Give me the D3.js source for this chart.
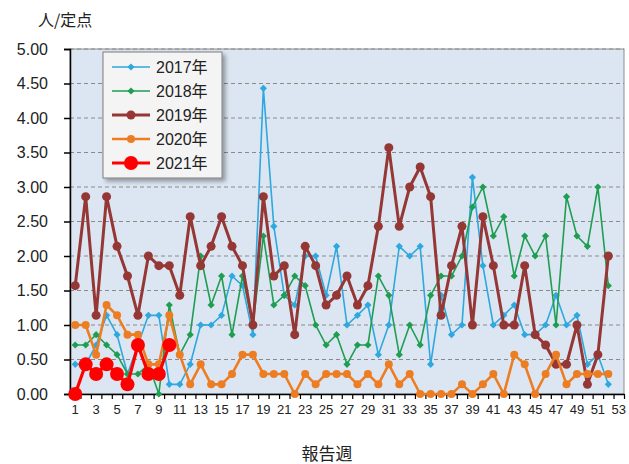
<!DOCTYPE html>
<html><head><meta charset="utf-8">
<script src="https://cdn.jsdelivr.net/npm/d3@7"></script>
<style>body{margin:0;background:#fff}svg{display:block}</style>
</head><body><svg id="c" width="629" height="464"></svg>
<script>
const weeks = d3.range(1, 54);
const tickLabels = d3.range(1, 54, 2);
const yTicks = [0,0.5,1,1.5,2,2.5,3,3.5,4,4.5,5];
const s2017 = [0.43,0.43,0.71,1.14,0.86,0.29,0.71,1.14,1.14,0.14,0.14,0.43,1.00,1.00,1.14,1.71,1.57,0.86,4.43,2.43,1.43,1.29,2.00,2.00,1.43,2.14,1.00,1.14,1.29,0.57,1.00,2.14,2.00,2.14,0.43,1.43,0.86,1.00,3.14,1.86,1.00,1.14,1.29,0.86,0.86,1.00,1.43,1.00,1.14,0.43,0.57,0.14];
const s2018 = [0.71,0.71,0.86,0.71,0.57,0.29,0.29,0.43,0.00,1.29,0.57,0.86,2.00,1.29,1.71,0.86,1.71,1.00,2.29,1.29,1.43,1.71,1.57,1.00,0.71,0.86,0.43,0.71,0.71,1.71,1.43,0.57,1.00,0.71,1.43,1.71,1.71,2.00,2.71,3.00,2.29,2.57,1.71,2.29,2.00,2.29,1.00,2.86,2.29,2.14,3.00,1.57];
const s2019 = [1.57,2.86,1.14,2.86,2.14,1.71,1.14,2.00,1.86,1.86,1.43,2.57,1.86,2.14,2.57,2.14,1.86,1.00,2.86,1.71,1.86,0.86,2.14,1.86,1.29,1.43,1.71,1.29,1.57,2.43,3.57,2.43,3.00,3.29,2.86,1.14,1.86,2.43,1.00,2.57,1.86,1.00,1.00,1.86,0.86,0.71,0.43,0.43,1.00,0.14,0.57,2.00];
const s2020 = [1.00,1.00,0.57,1.29,1.14,0.86,0.86,0.43,0.43,1.14,0.57,0.14,0.43,0.14,0.14,0.29,0.57,0.57,0.29,0.29,0.29,0.00,0.29,0.14,0.29,0.29,0.29,0.14,0.29,0.14,0.43,0.14,0.29,0.00,0.00,0.00,0.00,0.14,0.00,0.14,0.29,0.00,0.57,0.43,0.00,0.29,0.57,0.14,0.29,0.29,0.29,0.29];
const s2021 = [0.00,0.43,0.29,0.43,0.29,0.14,0.71,0.29,0.29,0.71];
const seriesNames = ["2017年","2018年","2019年","2020年","2021年"];

const series = [
  {name: seriesNames[0], values: s2017, color: "#2ea8df", width: 1.6, marker: "diamond", size: 3.6},
  {name: seriesNames[1], values: s2018, color: "#1f9e52", width: 1.6, marker: "diamond", size: 3.6},
  {name: seriesNames[2], values: s2019, color: "#953735", width: 3, marker: "circle", size: 4.5},
  {name: seriesNames[3], values: s2020, color: "#ed7d22", width: 2.6, marker: "circle", size: 4},
  {name: seriesNames[4], values: s2021, color: "#ff0000", width: 3.2, marker: "circle", size: 7}
];

const svg = d3.select("#c");
const L = 70, R = 624, T = 49, B = 394;
const x = d3.scaleBand().domain(weeks).range([L, R]);
const y = d3.scaleLinear().domain([0, 5]).range([B, T]);
const cx = w => x(w) + x.bandwidth() / 2;
const font = "'Liberation Sans','Noto Sans CJK JP',sans-serif";

const defs = svg.append("defs");
const f = defs.append("filter").attr("id","sh").attr("x","-10%").attr("y","-10%").attr("width","130%").attr("height","130%");
f.append("feDropShadow").attr("dx",3).attr("dy",3).attr("stdDeviation",2).attr("flood-color","#000").attr("flood-opacity",0.35);

// plot area
svg.append("rect").attr("x", L).attr("y", T).attr("width", R - L).attr("height", B - T)
  .attr("fill", "#dce6f2").attr("stroke", "#8c8c8c").attr("stroke-width", 1);

// grid
svg.append("g").selectAll("line").data(yTicks.filter(v => v > 0)).join("line")
  .attr("x1", L).attr("x2", R).attr("y1", d => y(d)).attr("y2", d => y(d))
  .attr("stroke", "#8a8a8a").attr("stroke-width", 1).attr("stroke-dasharray", "4,3");

// y axis
const ya = svg.append("g").attr("transform", `translate(${L},0)`)
  .call(d3.axisLeft(y).tickValues(yTicks).tickFormat(d3.format(".2f")).tickSize(6).tickPadding(16));
ya.select(".domain").attr("stroke", "#000").attr("stroke-width", 1.5);
ya.selectAll(".tick line").attr("stroke", "#000").attr("stroke-width", 1.5);
ya.selectAll("text").attr("font-family", font).attr("font-size", 16).attr("fill", "#222");

// x axis
const xTickScale = d3.scaleLinear().domain([0, 53]).range([L, R]);
const xa = svg.append("g").attr("transform", `translate(0,${B})`)
  .call(d3.axisBottom(xTickScale).tickValues(d3.range(0, 54)).tickFormat("").tickSize(5).tickSizeOuter(0));
xa.select(".domain").attr("stroke", "#000").attr("stroke-width", 1.5);
xa.selectAll(".tick line").attr("stroke", "#000").attr("stroke-width", 1.2);
svg.append("g").selectAll("text").data(tickLabels).join("text")
  .attr("x", d => cx(d)).attr("y", B + 20).attr("text-anchor", "middle")
  .attr("font-family", font).attr("font-size", 13).attr("fill", "#222").text(d => d);

// titles
svg.append("text").attr("x", 38).attr("y", 26).attr("font-family", "'Noto Sans CJK JP',sans-serif")
  .attr("font-size", 16).attr("fill", "#222").text("人/定点");
svg.append("text").attr("x", 327).attr("y", 460).attr("text-anchor", "middle")
  .attr("font-family", "'Noto Sans CJK JP',sans-serif").attr("font-size", 17).attr("fill", "#222").text("報告週");

function drawMarker(g, s, px, py) {
  if (s.marker === "diamond") {
    const r = s.size;
    g.append("path").attr("d", `M${px},${py - r}L${px + r},${py}L${px},${py + r}L${px - r},${py}Z`)
      .attr("fill", s.color);
  } else {
    g.append("circle").attr("cx", px).attr("cy", py).attr("r", s.size).attr("fill", s.color);
  }
}

// series
const line = d3.line().x((d, i) => cx(i + 1)).y(d => y(d));
series.forEach(s => {
  const g = svg.append("g");
  g.append("path").datum(s.values).attr("d", line).attr("fill", "none")
    .attr("stroke", s.color).attr("stroke-width", s.width).attr("stroke-linejoin", "round");
  s.values.forEach((v, i) => drawMarker(g, s, cx(i + 1), y(v)));
});

// legend
const lg = svg.append("g");
lg.append("rect").attr("x", 103).attr("y", 52).attr("width", 119).attr("height", 126)
  .attr("fill", "#f4f4f4").attr("stroke", "#7f7f7f").attr("stroke-width", 1).attr("filter", "url(#sh)");
series.forEach((s, i) => {
  const ly = 67 + i * 24;
  lg.append("line").attr("x1", 112).attr("x2", 150).attr("y1", ly).attr("y2", ly)
    .attr("stroke", s.color).attr("stroke-width", s.width);
  drawMarker(lg, s, 131, ly);
  lg.append("text").attr("x", 156).attr("y", ly + 6).attr("font-family", font)
    .attr("font-size", 16).attr("fill", "#222").text(s.name);
});
</script></body></html>
